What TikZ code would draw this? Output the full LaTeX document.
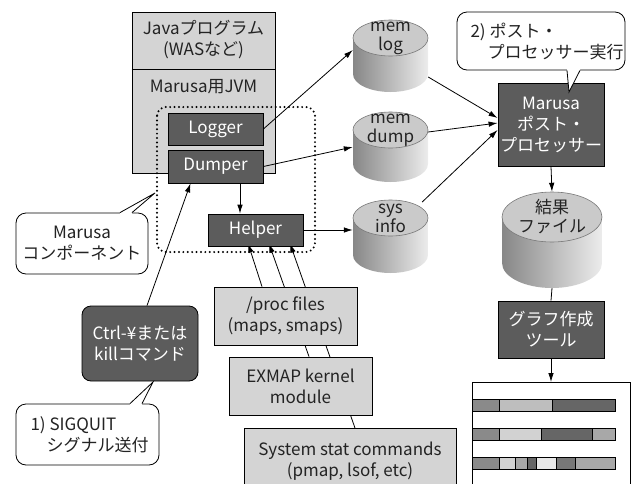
\documentclass[tikz,border=0pt]{standalone}
\usepackage{fontspec}
\setmainfont{Noto Sans CJK JP}
\usetikzlibrary{arrows.meta,calc}
\pgfdeclarelayer{behind}
\pgfsetlayers{behind,main}
\definecolor{lightbox}{RGB}{212,212,212}
\definecolor{darkbox}{RGB}{92,92,92}
\definecolor{txt}{RGB}{35,35,35}
\definecolor{cylL}{RGB}{135,135,135}
\definecolor{cylR}{RGB}{236,236,236}
\definecolor{cyltop}{RGB}{202,202,202}
\definecolor{cyledge}{RGB}{120,120,120}
\definecolor{barA}{RGB}{138,138,138}
\definecolor{barB}{RGB}{190,190,190}
\definecolor{barC}{RGB}{102,102,102}
\definecolor{barD}{RGB}{210,210,210}
\definecolor{barE}{RGB}{168,168,168}
\definecolor{barF}{RGB}{232,232,232}
\definecolor{barG}{RGB}{120,120,120}
\newcommand\mycyl[7]{%
  % name, cx, ytop, rx, ry, ybottom, text
  \shade[left color=cylL, right color=cylR]
    (#2-#4,#3+#5) -- (#2-#4,#6-#5)
    arc[start angle=180,end angle=360,x radius=#4pt,y radius=#5pt]
    -- (#2+#4,#3+#5) -- cycle;
  \filldraw[fill=cyltop, draw=cyledge, line width=0.6pt] (#2,#3+#5) ellipse[x radius=#4pt, y radius=#5pt];
  \node[inner sep=0, minimum width=2*#4pt, minimum height=#6pt-#3pt] (#1) at (#2,{(#3+#6)/2}) {};
  \node[txt, align=center, font=\fontsize{17}{19}\selectfont] at (#2,#3+#5) {#7};
}
\begin{document}
\begin{tikzpicture}[x=1pt,y=-1pt,
  font=\fontsize{17}{21}\selectfont,
  base/.style={draw=black, line width=0.8pt, inner sep=0, align=center},
  lbox/.style={base, fill=lightbox, text=txt},
  dbox/.style={base, fill=darkbox, text=white},
  arr/.style={-{Latex[length=9pt,width=5.5pt]}, line width=0.8pt},
  conn/.style={line width=0.8pt},
  callout/.style={draw=black, line width=0.8pt, fill=white, rounded corners=10pt, inner sep=0}
]
\useasboundingbox (0,0) rectangle (641,483);
\clip (0,0) rectangle (641,483);

% JVM box
\node[lbox, minimum width=143pt, minimum height=161pt] (jvm) at (203.5,92.5) {};
\draw[conn] (jvm.north west) ++(0,-58pt) -- ++(143pt,0);
\node[txt, align=center] (java) at (203.5,40) {Javaプログラム\\(WASなど)};
\node[txt] (jvmlabel) at (203.5,87) {Marusa用JVM};

% dotted component region
\draw[line width=2.2pt, dash pattern=on 0pt off 4.4pt, line cap=round, rounded corners=9pt] (157,107) rectangle (315,252);

% source boxes
\node[lbox, minimum width=143pt, minimum height=58pt] (proc) at (285.5,316) {/proc files\\(maps, smaps)};
\node[lbox, minimum width=143pt, minimum height=58pt] (exmap) at (300.5,386) {EXMAP kernel\\module};
\node[lbox, minimum width=212pt, minimum height=80pt, anchor=north] (sysstat) at (350,428) {};
\node[txt, align=center] (sysstattext) at (350,461) {System stat commands\\(pmap, lsof, etc)};

\node[dbox, minimum width=95pt, minimum height=32pt] (logger) at (215.5,129) {Logger};
\node[dbox, minimum width=95pt, minimum height=33pt] (dumper) at (215.5,166.5) {Dumper};
\node[dbox, minimum width=95pt, minimum height=32pt] (helper) at (255.5,230) {Helper};

% source arrows to helper (behind boxes)
\begin{pgfonlayer}{behind}
\draw[arr, shorten >=-3pt] ([xshift=-23.5pt]proc.north) -- ([xshift=-6.5pt]helper.south);
\draw[arr, shorten >=-3pt] ([xshift=8.5pt]exmap.north) -- ([xshift=14.5pt]helper.south);
\draw[arr, shorten >=-3pt] ([xshift=5pt]sysstat.north) -- ([xshift=35.5pt]helper.south);
\end{pgfonlayer}

% cylinders
\mycyl{memlog}{390.5}{20}{37.5}{18}{92}{mem\\log}
\mycyl{memdump}{390.5}{112}{37.5}{18}{182}{mem\\dump}
\mycyl{sysinfo}{390.5}{200}{37.5}{18}{273}{sys\\info}
\mycyl{kekka}{552}{192}{50}{25}{288}{結果\\ファイル}

% Marusa post processor
\node[dbox, minimum width=106pt, minimum height=83pt] (marusa) at (551,124.5) {Marusa\\ポスト・\\プロセッサー};
\node[dbox, minimum width=106pt, minimum height=57pt] (graphtool) at (551,329.5) {グラフ作成\\ツール};

% graph output
\node[draw=black, line width=0.8pt, fill=white, minimum width=158pt, minimum height=120pt, anchor=north west, inner sep=0] (graph) at (472,382) {};
\begin{scope}[line width=0.8pt]
  \filldraw[fill=barA] (472,399) rectangle (499,411);
  \filldraw[fill=barB] (499,399) rectangle (552,411);
  \filldraw[fill=barC] (552,399) rectangle (615,411);
  \filldraw[fill=barA] (472,428) rectangle (499,440);
  \filldraw[fill=barD] (499,428) rectangle (541,440);
  \filldraw[fill=barC] (541,428) rectangle (592,440);
  \filldraw[fill=barE] (592,428) rectangle (615,440);
  \filldraw[fill=barA] (472,457) rectangle (499,469);
  \filldraw[fill=barD] (499,457) rectangle (515,469);
  \filldraw[fill=barE] (515,457) rectangle (527,469);
  \filldraw[fill=barC] (527,457) rectangle (536,469);
  \filldraw[fill=barF] (536,457) rectangle (556,469);
  \filldraw[fill=barG] (556,457) rectangle (575,469);
  \filldraw[fill=barE] (575,457) rectangle (615,469);
\end{scope}

% Ctrl box
\node[dbox, rounded corners=9pt, minimum width=116pt, minimum height=75pt] (ctrl) at (140,343.5) {Ctrl-¥または\\killコマンド};

% connectors
\draw[arr] (logger.east) -- ([yshift=6pt]memlog.west);
\draw[arr] (dumper.east) -- (memdump.west);
\draw[arr] ([xshift=24.5pt]dumper.south) -- ([xshift=-15.5pt]helper.north);
\draw[arr] (helper.east) -- (helper.east -| sysinfo.west);
\draw[arr] ([yshift=-21pt]memlog.east) -- ([yshift=6.5pt]marusa.west);
\draw[arr] ([yshift=15pt]memdump.east) -- ([yshift=1.5pt]marusa.west);
\draw[arr] ([xshift=-6pt,yshift=34.5pt]sysinfo.east) -- ([yshift=-5.5pt]marusa.west);
\draw[arr] (marusa.south) -- (kekka.north);
\draw[conn] (kekka.south) -- (graphtool.north);
\draw[arr] (graphtool.south) -- (graph.north -| graphtool.south);
\draw[arr] ([xshift=7pt]ctrl.north) -- ([xshift=-25pt]dumper.south);

% callouts
\node[callout, minimum width=132pt, minimum height=61pt] (comp) at (82,243.5) {};
\node[txt, align=center] (comptext) at (82,243.5) {Marusa\\コンポーネント};
\coordinate (comptip) at (155,193);
\fill[white] ([xshift=38pt]comp.north) -- (comptip) -- ([xshift=50pt]comp.north) -- ([xshift=50pt,yshift=-1.5pt]comp.north) -- ([xshift=38pt,yshift=-1.5pt]comp.north) -- cycle;
\draw[conn, line join=miter] ([xshift=38pt]comp.north) -- (comptip) -- ([xshift=50pt]comp.north);

\node[callout, minimum width=143pt, minimum height=61pt] (sig) at (87.5,434.5) {};
\node[txt, align=left, anchor=west] (sigtext) at (27,434.5) {1) SIGQUIT\\\hspace*{16pt}シグナル送付};
\coordinate (sigtip) at (153,382);
\fill[white] ([xshift=42.5pt]sig.north) -- (sigtip) -- ([xshift=54.5pt]sig.north) -- ([xshift=54.5pt,yshift=-1.5pt]sig.north) -- ([xshift=42.5pt,yshift=-1.5pt]sig.north) -- cycle;
\draw[conn, line join=miter] ([xshift=42.5pt]sig.north) -- (sigtip) -- ([xshift=54.5pt]sig.north);

\node[callout, minimum width=168pt, minimum height=58pt] (post) at (541,41) {};
\node[txt, align=left, anchor=west] (posttext) at (467,41) {2) ポスト・\\\hspace*{17pt}プロセッサー実行};
\coordinate (posttip) at (569,92);
\fill[white] ([xshift=26pt]post.south) -- (posttip) -- ([xshift=39pt]post.south) -- ([xshift=39pt,yshift=1.5pt]post.south) -- ([xshift=26pt,yshift=1.5pt]post.south) -- cycle;
\draw[conn, line join=miter] ([xshift=26pt]post.south) -- (posttip) -- ([xshift=39pt]post.south);
\end{tikzpicture}
\end{document}
